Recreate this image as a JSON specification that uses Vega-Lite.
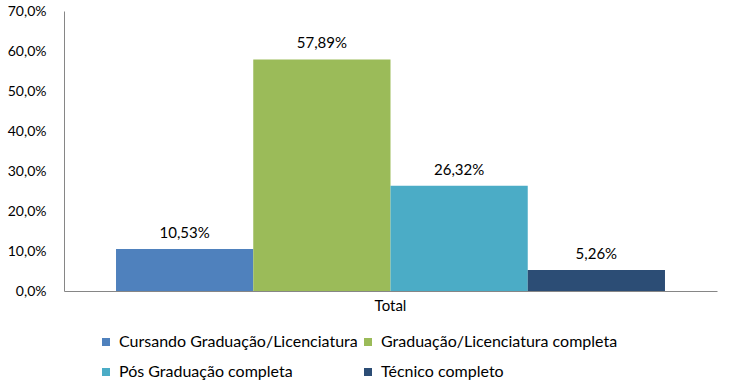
{
  "$schema": "https://vega.github.io/schema/vega-lite/v6.json",
  "width": 653,
  "height": 280,
  "autosize": "none",
  "padding": {"left": 64, "top": 11, "right": 15, "bottom": 100},
  "background": "white",
  "config": {
    "locale": {"number": {"decimal": ",", "thousands": ".", "grouping": [3], "currency": ["R$", ""]}},
    "view": {"stroke": null},
    "font": "Lato"
  },
  "data": {
    "values": [
      {"grupo": "Total", "categoria": "Cursando Graduação/Licenciatura", "valor": 0.1053},
      {"grupo": "Total", "categoria": "Graduação/Licenciatura completa", "valor": 0.5789},
      {"grupo": "Total", "categoria": "Pós Graduação completa", "valor": 0.2632},
      {"grupo": "Total", "categoria": "Técnico completo", "valor": 0.0526}
    ]
  },
  "encoding": {
    "x": {
      "field": "grupo", "type": "nominal", "title": null,
      "scale": {"paddingInner": 0, "paddingOuter": 0},
      "axis": {"labelAngle": 0, "ticks": false, "domainColor": "#868686", "labelFont": "Lato", "labelFontSize": 15, "labelColor": "#000000", "labelPadding": 7}
    },
    "xOffset": {
      "field": "categoria", "type": "nominal",
      "sort": ["Cursando Graduação/Licenciatura", "Graduação/Licenciatura completa", "Pós Graduação completa", "Técnico completo"],
      "scale": {"paddingInner": 0, "paddingOuter": 0.379}
    },
    "y": {
      "field": "valor", "type": "quantitative", "title": null,
      "scale": {"domain": [0, 0.7]},
      "axis": {"format": ".1%", "values": [0, 0.1, 0.2, 0.3, 0.4, 0.5, 0.6, 0.7], "grid": false, "ticks": false, "domainColor": "#868686", "labelFont": "Lato", "labelFontSize": 14, "labelColor": "#000000", "labelPadding": 18}
    }
  },
  "layer": [
    {
      "mark": {"type": "bar"},
      "encoding": {
        "color": {
          "field": "categoria", "type": "nominal", "title": null,
          "sort": ["Cursando Graduação/Licenciatura", "Graduação/Licenciatura completa", "Pós Graduação completa", "Técnico completo"],
          "scale": {"range": ["#4F81BD", "#9BBB59", "#4BACC6", "#2C4D75"]},
          "legend": {
            "orient": "none", "legendX": 34, "legendY": 323, "direction": "horizontal", "columns": 2,
            "symbolType": "square", "symbolSize": 64, "symbolStrokeWidth": 0,
            "labelFont": "Lato", "labelFontSize": 16, "labelColor": "#000000",
            "columnPadding": 2, "rowPadding": 14, "labelOffset": 5, "labelLimit": 400
          }
        }
      }
    },
    {
      "mark": {"type": "text", "baseline": "bottom", "dy": -8, "font": "Lato", "fontSize": 15, "color": "#000000"},
      "encoding": {
        "text": {"field": "valor", "type": "quantitative", "format": ".2%"}
      }
    }
  ]
}
